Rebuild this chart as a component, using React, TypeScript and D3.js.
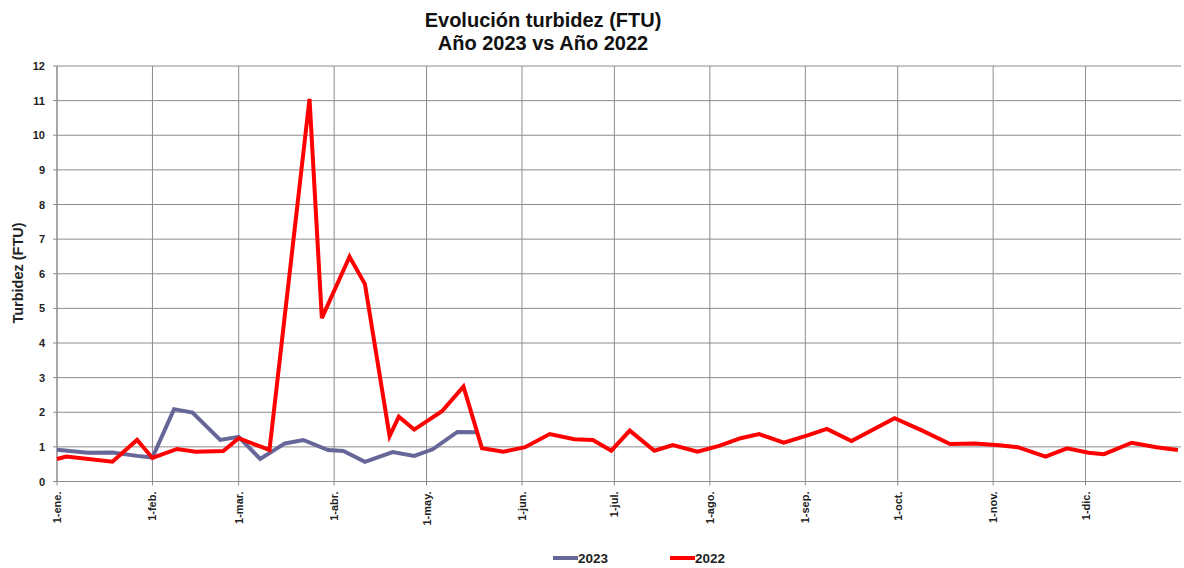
import React from "react";
import * as d3 from "d3";

const months = ["1-ene.", "1-feb.", "1-mar.", "1-abr.", "1-may.", "1-jun.", "1-jul.", "1-ago.", "1-sep.", "1-oct.", "1-nov.", "1-dic."];
const yTicks = [0, 1, 2, 3, 4, 5, 6, 7, 8, 9, 10, 11, 12];

const dates2023 = ["01-01", "01-11", "01-19", "01-27", "02-01", "02-08", "02-14", "02-23", "03-01", "03-08", "03-16", "03-22", "03-30", "04-04", "04-11", "04-20", "04-27", "05-03", "05-11", "05-18"];
const values2023 = [0.92, 0.83, 0.84, 0.74, 0.69, 2.09, 1.99, 1.2, 1.29, 0.65, 1.1, 1.2, 0.91, 0.88, 0.57, 0.85, 0.74, 0.93, 1.43, 1.42];

const dates2022 = ["01-01", "01-04", "01-19", "01-27", "02-01", "02-09", "02-15", "02-24", "03-01", "03-11", "03-24", "03-28", "04-06", "04-11", "04-19", "04-22", "04-27", "05-06", "05-13", "05-19", "05-26", "06-02", "06-10", "06-18", "06-24", "06-30", "07-06", "07-14", "07-20", "07-28", "08-04", "08-11", "08-17", "08-25", "09-02", "09-08", "09-16", "09-30", "10-09", "10-18", "10-26", "11-03", "11-09", "11-18", "11-25", "12-02", "12-07", "12-16", "12-24", "12-31"];
const values2022 = [0.65, 0.72, 0.57, 1.2, 0.68, 0.94, 0.86, 0.88, 1.25, 0.91, 11.05, 4.72, 6.49, 5.7, 1.31, 1.87, 1.5, 2.03, 2.74, 0.96, 0.86, 0.99, 1.37, 1.22, 1.2, 0.89, 1.47, 0.89, 1.05, 0.86, 1.03, 1.25, 1.37, 1.12, 1.34, 1.52, 1.17, 1.83, 1.47, 1.08, 1.1, 1.05, 0.99, 0.72, 0.96, 0.83, 0.79, 1.12, 0.99, 0.91];

const series = [
  { name: "2023", dates: dates2023, values: values2023, color: "#666699" },
  { name: "2022", dates: dates2022, values: values2022, color: "#ff0000" },
];

const parse = (md: string) => d3.timeParse("%Y-%m-%d")("2023-" + md) as Date;

export default function App() {
  const W = 1184, H = 568;
  const left = 57, right = 1181, top = 66, bottom = 481.5;
  const x = d3.scaleTime().domain([new Date(2023, 0, 1), new Date(2024, 0, 1)]).range([left, right]);
  const y = d3.scaleLinear().domain([0, 12]).range([bottom, top]);
  const monthDates = d3.timeMonths(new Date(2023, 0, 1), new Date(2024, 0, 1));
  const line = d3.line<[Date, number]>().x((d) => x(d[0])).y((d) => y(d[1]));
  const font = "Arial, 'Liberation Sans', sans-serif";
  const grid = "#8c8c8c";

  return (
    <svg width={W} height={H} style={{ position: "absolute", left: 0, top: 0, background: "#fff" }} fontFamily={font}>
      <rect width={W} height={H} fill="#fff" />
      <text x={543} y={27} textAnchor="middle" fontWeight="bold" fontSize={20} fill="#111">Evolución turbidez (FTU)</text>
      <text x={543} y={50} textAnchor="middle" fontWeight="bold" fontSize={20} fill="#111">Año 2023 vs Año 2022</text>
      {yTicks.map((t) => (
        <g key={t}>
          <line x1={left - 4} x2={right} y1={y(t)} y2={y(t)} stroke={grid} strokeWidth={1} />
          <text x={45} y={y(t) + 4} textAnchor="end" fontWeight="bold" fontSize={11} fill="#222">{t}</text>
        </g>
      ))}
      {monthDates.map((m, i) => (
        <g key={i}>
          <line x1={x(m)} x2={x(m)} y1={top} y2={bottom + 4} stroke={grid} strokeWidth={1} />
          <text transform={`translate(${x(m) + 4},${bottom + 10}) rotate(-90)`} textAnchor="end" fontWeight="bold" fontSize={11} fill="#222">{months[i]}</text>
        </g>
      ))}
      <line x1={left} x2={left} y1={top} y2={bottom} stroke={grid} strokeWidth={1} />
      <text transform={`translate(22.5,273) rotate(-90)`} textAnchor="middle" fontWeight="bold" fontSize={14.5} fill="#222">Turbidez (FTU)</text>
      {series.map((s) => (
        <path key={s.name} d={line(s.dates.map((d, i) => [parse(d), s.values[i]] as [Date, number])) || ""} fill="none" stroke={s.color} strokeWidth={4} strokeLinejoin="miter" />
      ))}
      {series.map((s, i) => {
        const lx = i === 0 ? 553 : 670;
        return (
          <g key={s.name}>
            <line x1={lx} x2={lx + 25} y1={558} y2={558} stroke={s.color} strokeWidth={4} />
            <text x={lx + 25} y={563} fontWeight="bold" fontSize={13.5} fill="#222">{s.name}</text>
          </g>
        );
      })}
    </svg>
  );
}
